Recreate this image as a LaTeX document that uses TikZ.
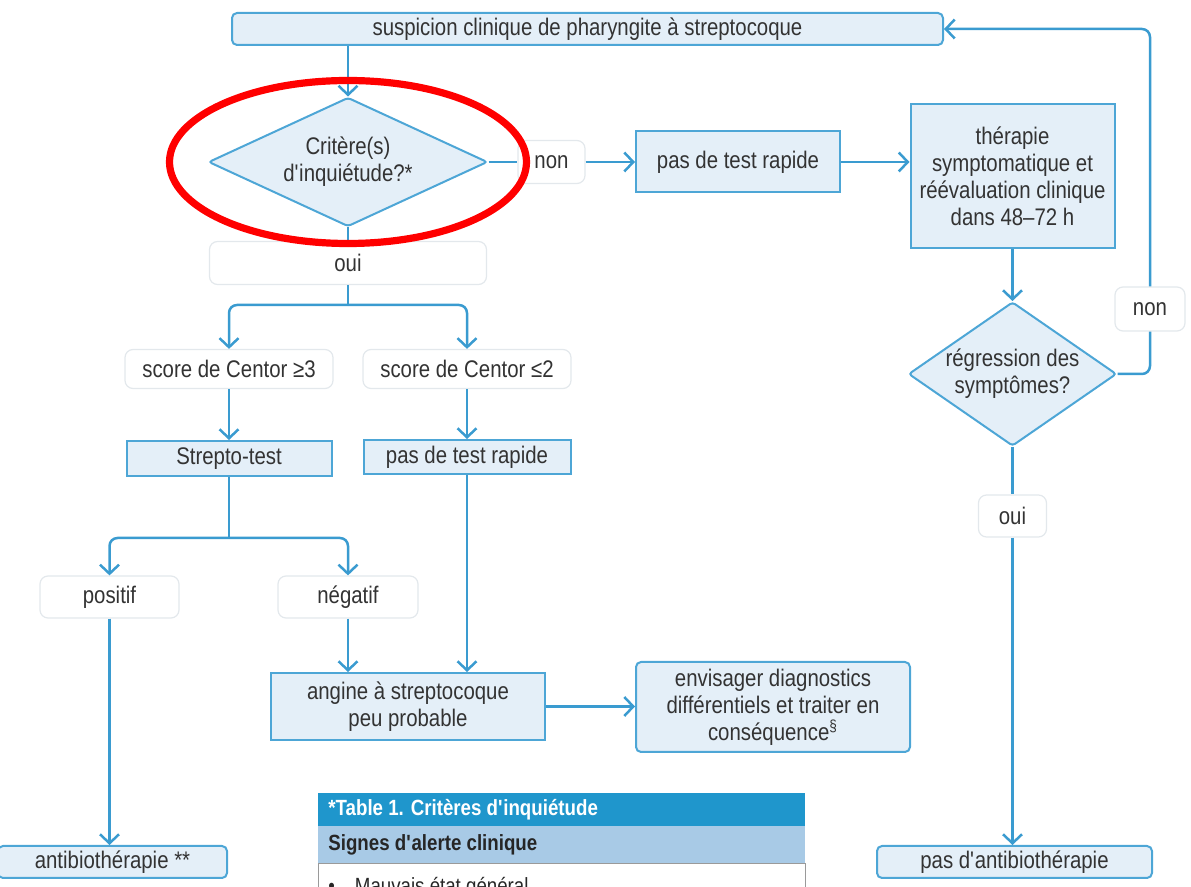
\documentclass[tikz,border=0pt]{standalone}
\usepackage{fontspec}
\setmainfont{Liberation Sans}[FakeStretch=0.85]
\usetikzlibrary{shapes.geometric,arrows.meta,positioning}
\definecolor{boxfill}{HTML}{E4EFF8}
\definecolor{boxline}{HTML}{4DA6D6}
\definecolor{connc}{HTML}{3A9BD0}
\definecolor{txt}{HTML}{333333}
\definecolor{lblline}{HTML}{E3E8EC}
\definecolor{tabdark}{HTML}{1F96CC}
\definecolor{tablight}{HTML}{A8CAE6}
\definecolor{tabgrid}{HTML}{9A9A9A}
\newcommand{\apos}{\textquotesingle}
\begin{document}
\begin{tikzpicture}[x=0.5pt,y=-0.5pt,
  font=\fontsize{12pt}{13.5pt}\selectfont,
  base/.style={text=txt,align=center,inner sep=0pt},
  sqbox/.style={base,draw=boxline,fill=boxfill,line width=1pt},
  rdbox/.style={sqbox,rounded corners=2.5pt},
  decision/.style={base,diamond,draw=boxline,fill=boxfill,line width=1pt,rounded corners=1.5pt},
  lbl/.style={base,draw=lblline,fill=white,line width=0.6pt,rounded corners=4pt},
  conn/.style={draw=connc,line width=1.25pt,rounded corners=4pt},
  arr/.style={conn,-{Straight Barb[length=4.5pt,width=9.5pt]}},
  ring/.style={draw=red,line width=3.6pt}
]
\useasboundingbox (0,0) rectangle (1191,887);
\clip (0,0) rectangle (1191,887);

% boxes
\node[rdbox,minimum width=355.5pt,minimum height=16pt] (top) at (587.5,29) {suspicion clinique de pharyngite à streptocoque};
\node[decision,aspect=2.16,minimum width=139.5pt,minimum height=64.5pt] (d1) at (348,162) {Critère(s)\\d\apos inquiétude?*};
\node[lbl,minimum width=33.5pt,minimum height=21.5pt] (non1) at (551.5,162) {non};
\node[sqbox,minimum width=102pt,minimum height=30.5pt] (pas1) at (738,162) {pas de test rapide};
\node[sqbox,minimum width=102pt,minimum height=72pt] (ther) at (1012.5,176) {thérapie\\symptomatique et\\réévaluation clinique\\dans 48–72 h};
\node[decision,aspect=1.44,minimum width=104pt,minimum height=72pt] (d2) at (1012.5,374) {régression des\\symptômes?};
\node[lbl,minimum width=35pt,minimum height=22pt] (non2) at (1150,309) {non};
\node[lbl,minimum width=34pt,minimum height=21pt] (oui2) at (1012.5,516) {oui};
\node[rdbox,minimum width=137.5pt,minimum height=16pt] (noab) at (1014.5,862) {pas d\apos antibiothérapie};

\node[lbl,minimum width=138.5pt,minimum height=21.5pt] (oui1) at (348,263) {oui};
\node[lbl,minimum width=104pt,minimum height=19.5pt] (sc3) at (229,369) {score de Centor ≥3};
\node[lbl,minimum width=104pt,minimum height=19.5pt] (sc2) at (467,369) {score de Centor ≤2};
\node[sqbox,minimum width=102.5pt,minimum height=17.5pt] (strep) at (229,458.5) {Strepto-test};
\node[sqbox,minimum width=103.5pt,minimum height=17pt] (pas2) at (467,457) {pas de test rapide};
\node[lbl,minimum width=69.5pt,minimum height=21pt] (pos) at (109.5,597) {positif};
\node[lbl,minimum width=70pt,minimum height=21pt] (neg) at (348,597) {négatif};
\node[rdbox,minimum width=114.5pt,minimum height=16pt] (ab) at (112.5,862) {antibiothérapie **};
\node[sqbox,minimum width=137pt,minimum height=33.5pt] (ang) at (408,706.5) {angine à streptocoque\\peu probable};
\node[rdbox,minimum width=137pt,minimum height=45pt] (env) at (773,707) {envisager diagnostics\\différentiels et traiter en\\conséquence\textsuperscript{\S}};

% table
\node[draw=tabgrid,fill=white,line width=0.5pt,minimum width=243.5pt,minimum height=25pt,anchor=north west,inner sep=0pt] (tabr) at (318,863) {};
\node[fill=tablight,minimum width=243.5pt,minimum height=18.5pt,anchor=north west,inner sep=0pt] (tabs) at (318,826) {};
\node[fill=tabdark,minimum width=243.5pt,minimum height=16.5pt,anchor=north west,inner sep=0pt] (tabh) at (318,793) {};
\draw[tabgrid,line width=0.5pt] (tabs.south west) -- (tabs.south east);
\node[anchor=west,inner sep=0pt,text=white,font=\fontsize{11pt}{13pt}\selectfont\bfseries] (tabht) at ([xshift=5pt]tabh.west) {*Table 1. Critères d\apos inquiétude};
\node[anchor=west,inner sep=0pt,text=black!85,font=\fontsize{11pt}{13pt}\selectfont\bfseries] (tabst) at ([xshift=5pt]tabs.west) {Signes d\apos alerte clinique};
\node[anchor=base west,inner sep=0pt,text=black!85,font=\fontsize{11pt}{13pt}\selectfont] (tabrt) at (328,894) {•\hspace{10pt}Mauvais état général};

% connectors
\draw[arr] (d1.north |- top.south) -- (d1.north);
\draw[conn] (d1.east) -- (non1.west);
\draw[arr] (non1.east) -- (pas1.west);
\draw[arr] (pas1.east) -- (pas1.east -| ther.west);
\draw[arr] (ther.south) -- (d2.north);
\draw[conn] (d2.east) -| (non2.south);
\draw[arr] (non2.north) |- (top.east);
\draw[conn] (d2.south) -- (oui2.north);
\draw[arr] (oui2.south) -- (oui2.south |- noab.north);

\coordinate (j1) at (348,305);
\coordinate (j2) at (229,538);
\draw[conn] (d1.south) -- (oui1.north);
\draw[conn] (oui1.south) -- (j1);
\draw[arr] (j1) -| (sc3.north);
\draw[arr] (j1) -| (sc2.north);
\draw[arr] (sc3.south) -- (strep.north);
\draw[arr] (sc2.south) -- (pas2.north);
\draw[conn] (strep.south) -- (j2);
\draw[arr] (j2) -| (pos.north);
\draw[arr] (j2) -| (neg.north);
\draw[arr] (pos.south) -- (pos.south |- ab.north);
\draw[arr] (neg.south) -- (neg.south |- ang.north);
\draw[arr] (pas2.south) -- (pas2.south |- ang.north);
\draw[arr] (ang.east) -- (ang.east -| env.west);

% red highlight
\draw[ring] (d1.center) ellipse[x radius=178.5,y radius=81.5];
\end{tikzpicture}
\end{document}
